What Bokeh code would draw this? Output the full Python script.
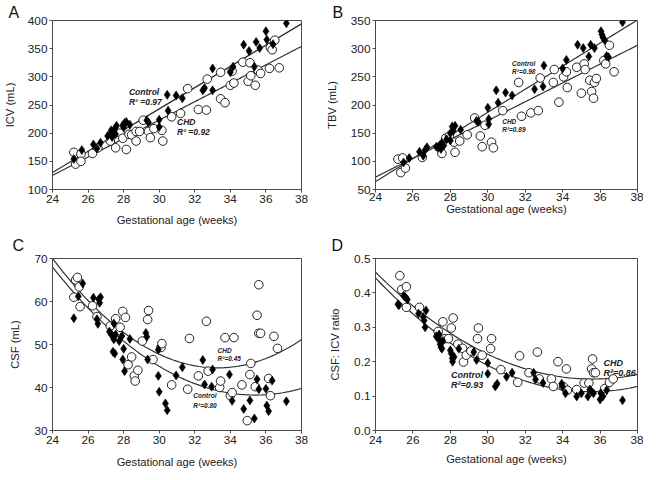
import numpy as np
from bokeh.plotting import figure
from bokeh.layouts import gridplot
from bokeh.models import Label, FixedTicker, NumeralTickFormatter, Range1d
from bokeh.embed import file_html
from bokeh.resources import INLINE

FONT = "Liberation Sans"

# ---------------- data ----------------
x_ticks = [24, 26, 28, 30, 32, 34, 36, 38]

# Panel A: ICV
a_ctrl_x = [25.2, 25.65, 26.3, 26.5, 26.7, 27.1, 27.25, 27.3, 27.35, 27.45, 27.5, 27.6, 27.55, 27.95, 28.05,
            28.15, 28.0, 28.35, 29.3, 29.4, 30.0, 30.0, 30.45, 30.5, 30.95, 31.3, 32.45, 32.55, 33.0, 33.0,
            34.0, 34.15, 34.75, 35.05, 35.45, 35.65, 35.35, 36.0, 36.05, 36.4, 37.15]
a_ctrl_y = [154, 170, 180, 173, 183, 195, 199, 205, 193, 202, 208, 213, 198, 214, 218,
            220, 210, 215, 223, 219, 224, 211, 268, 240, 267, 262, 276, 280, 315, 276,
            308, 318, 357, 346, 362, 351, 318, 381, 366, 358, 395]
a_chd_x = [25.2, 25.3, 25.6, 25.6, 26.25, 26.55, 27.25, 27.55, 27.8, 27.95, 28.15, 28.3, 28.45, 28.7, 28.7,
           28.9, 29.1, 29.4, 29.5, 29.7, 30.15, 30.2, 30.7, 31.2, 31.6, 32.2, 32.65, 32.7, 33.45, 33.45,
           33.7, 34.0, 34.1, 34.2, 34.7, 35.0, 35.1, 35.15, 35.4, 35.55, 35.7, 36.25, 36.35, 36.5, 36.2, 36.75]
a_chd_y = [166, 145, 163, 150, 164, 174, 186, 174, 200, 191, 171, 198, 197, 186, 203,
           203, 223, 203, 192, 208, 205, 186, 229, 235, 279, 242, 241, 296, 308, 261,
           254, 285, 310, 289, 326, 292, 325, 302, 285, 312, 306, 352, 348, 365, 315, 316]
a_ctrl_fit_x = [24, 38]
a_ctrl_fit_y = [130, 394]
a_chd_fit_x = [24, 38]
a_chd_fit_y = [125, 354]
a_y_ticks = [100, 150, 200, 250, 300, 350, 400]

# Panel B: TBV
b_ctrl_x = [25.5, 25.8, 26.35, 26.55, 26.65, 26.75, 27.25, 27.35, 27.45, 27.55, 27.5, 27.65, 27.8, 28.0, 28.1,
            28.25, 28.0, 28.15, 28.55, 29.4, 29.5, 30.0, 30.05, 30.05, 30.45, 30.55, 30.95, 31.3, 32.5, 33.0,
            32.95, 34.0, 34.2, 34.8, 35.1, 35.4, 35.5, 35.7, 36.05, 36.1, 36.15, 36.25, 36.35, 36.45, 37.2]
b_ctrl_y = [98, 106, 117, 110, 120, 125, 126, 124, 129, 133, 122, 128, 139, 150, 162,
            163, 137, 154, 156, 172, 170, 195, 175, 166, 226, 204, 222, 217, 228, 270,
            233, 265, 280, 307, 301, 286, 307, 301, 331, 325, 320, 315, 287, 285, 347]
b_chd_x = [25.2, 25.45, 25.35, 25.6, 26.5, 27.55, 27.75, 27.95, 28.2, 28.25, 28.5, 28.9, 29.3, 29.6, 29.7,
           29.85, 30.2, 30.3, 30.8, 31.65, 31.8, 32.3, 32.7, 32.8, 33.55, 33.5, 33.8, 34.05, 34.2, 34.25,
           34.75, 35.0, 35.15, 35.2, 35.45, 35.55, 35.65, 35.7, 35.8, 36.2, 36.3, 36.5, 36.75]
b_chd_y = [104, 106, 80, 88, 107, 114, 141, 145, 134, 116, 136, 147, 177, 145, 126,
           164, 134, 124, 190, 240, 180, 186, 190, 248, 263, 240, 205, 250, 259, 231,
           267, 221, 273, 263, 244, 224, 212, 240, 247, 279, 273, 306, 259]
b_ctrl_fit_x = [24, 38]
b_ctrl_fit_y = [64, 351]
b_chd_fit_x = [24, 38]
b_chd_fit_y = [72, 306]
b_y_ticks = [50, 100, 150, 200, 250, 300, 350]

# Panel C: CSF
c_ctrl_x = [25.2, 25.45, 25.7, 26.3, 26.6, 26.65, 26.7, 26.55, 26.5, 27.2, 27.3, 27.4, 27.45, 27.55, 27.45,
            27.4, 27.5, 27.75, 27.9, 27.95, 28.0, 28.05, 28.35, 29.25, 29.3, 29.35, 29.95, 29.95, 30.0, 30.35,
            30.45, 30.95, 31.3, 32.45, 32.55, 32.95, 33.0, 33.95, 34.1, 34.75, 35.1, 35.35, 35.5, 35.6, 36.0,
            36.05, 36.15, 36.35, 37.15]
c_ctrl_y = [56.1, 61.2, 64.2, 60.9, 60.5, 59.7, 61.0, 54.8, 55.9, 53.0, 52.4, 51.8, 51.2, 52.3, 54.9,
            48.3, 47.9, 50.8, 52.0, 46.5, 49.0, 43.8, 51.3, 52.7, 51.8, 46.5, 48.8, 42.7, 39.0, 36.3,
            34.7, 42.8, 44.7, 46.4, 40.7, 40.2, 44.2, 43.0, 36.9, 35.0, 37.0, 32.8, 41.9, 39.6, 39.7,
            35.8, 34.5, 41.6, 36.8]
c_chd_x = [25.2, 25.3, 25.4, 25.5, 25.55, 26.25, 26.5, 27.25, 27.55, 27.8, 27.95, 28.1, 28.25, 28.45, 28.6,
           28.65, 28.8, 29.05, 29.4, 29.35, 29.65, 30.1, 30.15, 30.7, 31.6, 31.7, 32.2, 32.65, 32.75, 33.4,
           33.45, 33.7, 34.0, 34.1, 34.2, 34.65, 34.95, 35.1, 35.15, 35.4, 35.5, 35.6, 35.7, 35.6, 36.15,
           36.25, 36.45, 36.65]
c_chd_y = [61.0, 65.0, 65.6, 63.4, 58.8, 59.0, 56.5, 54.3, 56.0, 54.0, 57.7, 56.3, 45.3, 47.1, 42.7,
           41.5, 44.0, 50.8, 57.9, 55.8, 46.5, 49.3, 50.2, 40.6, 39.6, 51.4, 42.7, 55.4, 43.8, 40.0,
           41.5, 51.6, 38.1, 38.8, 51.6, 40.6, 32.3, 43.0, 45.6, 40.2, 56.8, 52.6, 52.6, 63.9, 42.1,
           38.1, 51.9, 49.1]
c_ctrl_fit_x = [24, 31, 34, 36, 38]
c_ctrl_fit_y = [68.0, 42.7, 38.7, 38.3, 39.8]
c_chd_fit_x = [24, 31, 33, 35, 38]
c_chd_fit_y = [70.0, 46.3, 44.4, 45.4, 51.2]
c_y_ticks = [30, 40, 50, 60, 70]

# Panel D: CSF:ICV ratio
d_ctrl_x = [25.2, 25.25, 25.5, 25.6, 25.7, 26.3, 26.55, 26.6, 26.65, 26.7, 27.25, 27.3, 27.4, 27.45, 27.5,
            27.55, 27.6, 27.4, 28.0, 28.05, 28.1, 28.12, 28.2, 28.45, 29.25, 29.4, 30.0, 30.0, 30.4, 30.5,
            31.0, 31.3, 32.45, 32.55, 32.95, 33.95, 34.0, 34.15, 34.75, 35.0, 35.35, 35.45, 35.55, 35.65,
            36.0, 36.05, 36.15, 36.35, 37.2]
d_ctrl_y = [0.367, 0.364, 0.392, 0.387, 0.381, 0.340, 0.330, 0.320, 0.300, 0.349, 0.274, 0.270, 0.265, 0.251,
            0.242, 0.238, 0.260, 0.279, 0.233, 0.224, 0.210, 0.200, 0.214, 0.238, 0.228, 0.205, 0.196, 0.165,
            0.128, 0.136, 0.156, 0.168, 0.168, 0.148, 0.138, 0.136, 0.127, 0.108, 0.099, 0.108, 0.099, 0.119,
            0.113, 0.108, 0.090, 0.108, 0.099, 0.117, 0.088]
d_chd_x = [25.3, 25.4, 25.65, 25.65, 26.35, 27.35, 27.6, 27.7, 27.9, 28.05, 28.15, 28.4, 28.65, 28.7, 28.85,
           29.1, 29.45, 29.5, 29.7, 30.15, 30.2, 30.7, 31.6, 31.7, 32.2, 32.65, 32.75, 33.4, 33.5, 33.75,
           34.05, 34.2, 34.25, 34.75, 35.15, 35.4, 35.55, 35.6, 35.65, 35.75, 36.15, 36.25, 36.5, 36.7]
d_chd_y = [0.450, 0.410, 0.418, 0.358, 0.358, 0.288, 0.316, 0.267, 0.267, 0.298, 0.327, 0.251, 0.239, 0.199,
           0.219, 0.231, 0.267, 0.298, 0.219, 0.238, 0.267, 0.177, 0.140, 0.217, 0.168, 0.228, 0.150, 0.150,
           0.128, 0.200, 0.127, 0.179, 0.117, 0.119, 0.138, 0.138, 0.179, 0.208, 0.168, 0.168, 0.110, 0.122,
           0.140, 0.150]
d_ctrl_fit_x = [24, 31, 34.2, 35.7, 38]
d_ctrl_fit_y = [0.443, 0.168, 0.113, 0.112, 0.130]
d_chd_fit_x = [24, 31, 34.2, 35.7, 38]
d_chd_fit_y = [0.460, 0.198, 0.155, 0.149, 0.163]
d_y_ticks = [0.0, 0.1, 0.2, 0.3, 0.4, 0.5]

INK = "#222222"
FRAME = "#4a4a4a"


def make_panel(w, h, borders, yr, yticks, ylabel, xstand, ystand, letter, letter_offset,
               letter_standoff, fmt=None, tick_standoff=2):
    left, right, top, bottom = borders
    p = figure(width=w, height=h, output_backend="svg", toolbar_location=None,
               x_range=Range1d(24, 38), y_range=Range1d(*yr),
               min_border_left=left, min_border_right=right,
               min_border_top=top, min_border_bottom=bottom)
    p.title.text = letter
    p.title.text_font = FONT
    p.title.text_font_size = "16px"
    p.title.text_font_style = "normal"
    p.title.text_color = "#111111"
    p.title.align = "left"
    p.title.offset = letter_offset
    p.title.standoff = letter_standoff
    p.xgrid.visible = False
    p.ygrid.visible = False
    p.outline_line_color = FRAME
    p.outline_line_width = 1
    p.background_fill_color = "white"
    p.border_fill_color = "white"
    for ax in (p.xaxis, p.yaxis):
        ax.axis_line_color = FRAME
        ax.major_tick_line_color = FRAME
        ax.minor_tick_line_color = None
        ax.major_tick_out = 3
        ax.major_tick_in = 0
        ax.major_label_standoff = 2
        ax.major_label_text_font = FONT
        ax.major_label_text_font_size = "11.8px"
        ax.major_label_text_color = INK
        ax.axis_label_text_font = FONT
        ax.axis_label_text_font_size = "11.2px"
        ax.axis_label_text_font_style = "normal"
        ax.axis_label_text_color = INK
    p.xaxis.major_label_standoff = tick_standoff
    p.xaxis.ticker = FixedTicker(ticks=x_ticks)
    p.yaxis.ticker = FixedTicker(ticks=yticks)
    if fmt:
        p.yaxis.formatter = NumeralTickFormatter(format=fmt)
    p.xaxis.axis_label = "Gestational age (weeks)"
    p.yaxis.axis_label = ylabel
    p.xaxis.axis_label_standoff = xstand
    p.yaxis.axis_label_standoff = ystand
    return p


def fit_line(p, fx, fy, deg):
    coef = np.polyfit(fx, fy, deg)
    xs = np.linspace(24, 38, 120)
    p.line(xs, np.polyval(coef, xs), line_color="#303030", line_width=1.2)


def draw_points(p, cx, cy, hx, hy):
    p.scatter(hx, hy, marker="circle", size=8.6, fill_color="white", line_color=INK, line_width=1)
    p.scatter(cx, cy, marker="diamond", size=9, fill_color="black", line_color="black", line_width=0.6)


def note(p, x, y, text, size):
    p.add_layout(Label(x=x, y=y, text=text, text_font=FONT, text_font_size=size,
                       text_font_style="bold italic", text_color=INK,
                       text_align="left", text_baseline="middle"))


# Panel A
pa = make_panel(322, 229, (44, 17, 19, 40), (100, 400), a_y_ticks, "ICV (mL)", 8, 9, "A", -44, 0)
fit_line(pa, a_ctrl_fit_x, a_ctrl_fit_y, 1)
fit_line(pa, a_chd_fit_x, a_chd_fit_y, 1)
draw_points(pa, a_ctrl_x, a_ctrl_y, a_chd_x, a_chd_y)
note(pa, 28.3, 272.5, "Control", "8.5px")
note(pa, 28.3, 255.5, "R\u00b2 =0.97", "8.5px")
note(pa, 31.0, 219.0, "CHD", "8.5px")
note(pa, 31.0, 202.5, "R\u00b2 =0.92", "8.5px")

# Panel B
pb = make_panel(321, 229, (48, 6, 20, 38), (50, 350), b_y_ticks, "TBV (mL)", -1, 10, "B", -43, 0,
                tick_standoff=0)
fit_line(pb, b_ctrl_fit_x, b_ctrl_fit_y, 1)
fit_line(pb, b_chd_fit_x, b_chd_fit_y, 1)
draw_points(pb, b_ctrl_x, b_ctrl_y, b_chd_x, b_chd_y)
note(pb, 31.3, 274, "Control", "6.5px")
note(pb, 31.3, 258.6, "R\u00b2=0.98", "6.5px")
note(pb, 30.77, 170.7, "CHD", "6.5px")
note(pb, 30.77, 155.9, "R\u00b2=0.89", "6.5px")

# Panel C
pc = make_panel(322, 242, (40, 21, 29, 41), (30, 70), c_y_ticks, "CSF (mL)", 9, 10, "C", -40, 10)
fit_line(pc, c_ctrl_fit_x, c_ctrl_fit_y, 2)
fit_line(pc, c_chd_fit_x, c_chd_fit_y, 2)
draw_points(pc, c_ctrl_x, c_ctrl_y, c_chd_x, c_chd_y)
note(pc, 33.28, 48.6, "CHD", "6.5px")
note(pc, 33.28, 46.8, "R\u00b2=0.45", "6.5px")
note(pc, 31.92, 38.05, "Control", "6.5px")
note(pc, 31.92, 35.9, "R\u00b2=0.80", "6.5px")

# Panel D
pd = make_panel(321, 242, (47, 2, 28, 38), (0, 0.5), d_y_ticks, "CSF: ICV ratio", 6, 10, "D", -44, 10,
                fmt="0.0")
fit_line(pd, d_ctrl_fit_x, d_ctrl_fit_y, 2)
fit_line(pd, d_chd_fit_x, d_chd_fit_y, 2)
draw_points(pd, d_ctrl_x, d_ctrl_y, d_chd_x, d_chd_y)
note(pd, 36.18, 0.195, "CHD", "9px")
note(pd, 36.18, 0.167, "R\u00b2=0.86", "9px")
note(pd, 28.04, 0.162, "Control", "9px")
note(pd, 28.04, 0.133, "R\u00b2=0.93", "9px")

grid = gridplot([[pa, pb], [pc, pd]], toolbar_location=None)

with open("out.html", "w") as f:
    f.write(file_html(grid, INLINE))
